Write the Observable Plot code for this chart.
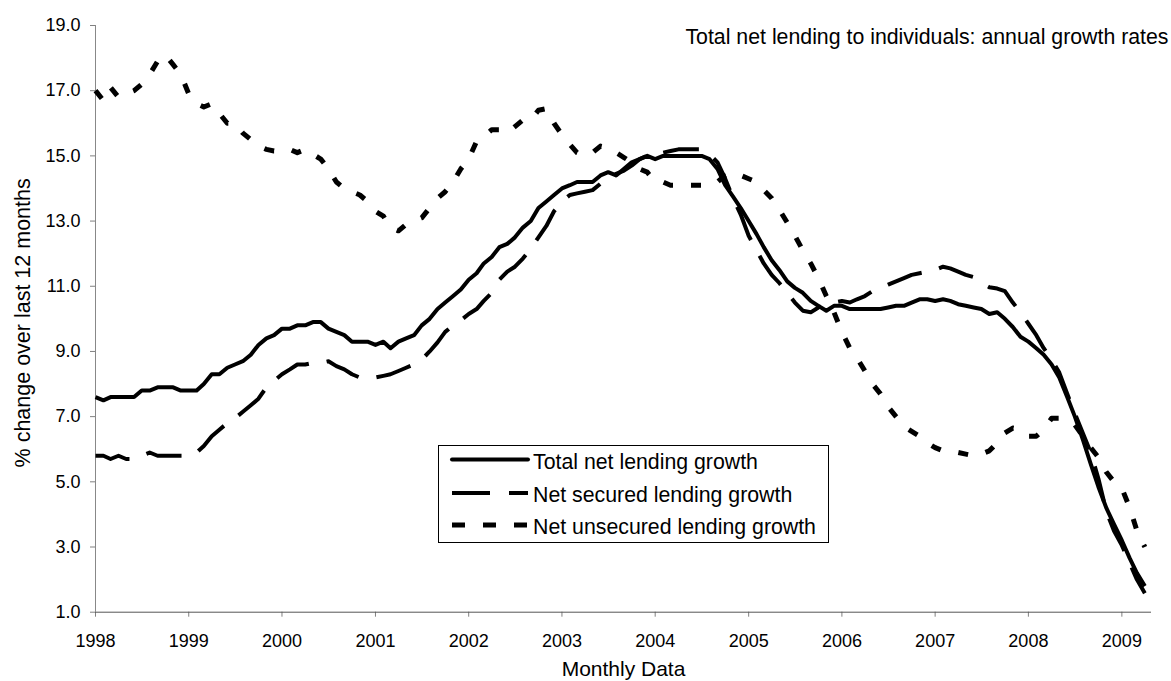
<!DOCTYPE html>
<html>
<head>
<meta charset="utf-8">
<script src="https://cdn.jsdelivr.net/npm/d3@7"></script>
<script src="https://cdn.jsdelivr.net/npm/@observablehq/plot@0.6"></script>
<style>
  html, body { margin: 0; padding: 0; background: #fff; }
  #wrap { position: relative; width: 1171px; height: 681px; font-family: "Liberation Sans", Arial, sans-serif; }
  #legend { position: absolute; left: 438px; top: 445px; }
</style>
</head>
<body>
<div id="wrap"></div>
<script>
// ---- Chart text ----
const titleText = "Total net lending to individuals: annual growth rates";
const yLabel = "% change over last 12 months";
const xLabel = "Monthly Data";
const seriesNames = ["Total net lending growth", "Net secured lending growth", "Net unsecured lending growth"];

// ---- Tick values ----
const yTicks = [1, 3, 5, 7, 9, 11, 13, 15, 17, 19];
const yearTicks = [1998, 1999, 2000, 2001, 2002, 2003, 2004, 2005, 2006, 2007, 2008, 2009];

// ---- Monthly series, Jan 1998 .. Apr 2009 ----
const total = [
  7.6, 7.5, 7.6, 7.6, 7.6, 7.6, 7.8, 7.8, 7.9, 7.9, 7.9, 7.8,          // 1998
  7.8, 7.8, 8.0, 8.3, 8.3, 8.5, 8.6, 8.7, 8.9, 9.2, 9.4, 9.5,          // 1999
  9.7, 9.7, 9.8, 9.8, 9.9, 9.9, 9.7, 9.6, 9.5, 9.3, 9.3, 9.3,          // 2000
  9.2, 9.3, 9.1, 9.3, 9.4, 9.5, 9.8, 10.0, 10.3, 10.5, 10.7, 10.9,     // 2001
  11.2, 11.4, 11.7, 11.9, 12.2, 12.3, 12.5, 12.8, 13.0, 13.4, 13.6, 13.8, // 2002
  14.0, 14.1, 14.2, 14.2, 14.2, 14.4, 14.5, 14.4, 14.6, 14.8, 14.9, 15.0, // 2003
  14.9, 15.0, 15.0, 15.0, 15.0, 15.0, 15.0, 14.9, 14.6, 14.1, 13.75, 13.4, // 2004
  13.0, 12.6, 12.2, 11.8, 11.5, 11.15, 10.95, 10.8, 10.55, 10.4, 10.25, 10.4, // 2005
  10.4, 10.3, 10.3, 10.3, 10.3, 10.3, 10.35, 10.4, 10.4, 10.5, 10.6, 10.6, // 2006
  10.55, 10.6, 10.55, 10.45, 10.4, 10.35, 10.3, 10.15, 10.2, 10.0, 9.75, 9.45, // 2007
  9.3, 9.1, 8.9, 8.6, 8.2, 7.6, 7.0, 6.3, 5.55, 4.85, 4.2, 3.7,        // 2008
  3.2, 2.65, 2.2, 1.8                                                   // 2009
];
const secured = [
  5.8, 5.8, 5.7, 5.8, 5.7, 5.7, 5.8, 5.9, 5.8, 5.8, 5.8, 5.8,          // 1998
  5.8, 5.9, 6.1, 6.4, 6.6, 6.8, 6.95, 7.15, 7.35, 7.55, 7.9, 8.1,      // 1999
  8.3, 8.45, 8.6, 8.6, 8.65, 8.65, 8.7, 8.55, 8.45, 8.3, 8.2, 8.2,     // 2000
  8.2, 8.25, 8.3, 8.4, 8.5, 8.6, 8.75, 9.0, 9.28, 9.6, 9.8, 9.95,      // 2001
  10.15, 10.3, 10.55, 10.8, 11.2, 11.45, 11.6, 11.85, 12.15, 12.5, 12.85, 13.3, // 2002
  13.6, 13.8, 13.85, 13.9, 13.95, 14.15, 14.35, 14.45, 14.55, 14.7, 14.9, 15.0, // 2003
  15.0, 15.1, 15.15, 15.2, 15.2, 15.2, 15.2, 15.05, 14.8, 14.3, 13.7, 13.2, // 2004
  12.55, 12.1, 11.7, 11.35, 11.1, 10.8, 10.5, 10.25, 10.2, 10.35, 10.45, 10.5, // 2005
  10.55, 10.5, 10.6, 10.7, 10.85, 10.95, 11.05, 11.15, 11.25, 11.35, 11.4, 11.45, // 2006
  11.5, 11.6, 11.55, 11.45, 11.35, 11.28, 11.1, 10.97, 10.93, 10.85, 10.5, 10.2, // 2007
  9.85, 9.5, 9.1, 8.75, 8.35, 7.7, 7.1, 6.5, 5.9, 5.1, 4.1, 3.5,      // 2008
  3.05, 2.5, 2.0, 1.58                                                  // 2009
];
const unsecured = [
  17.0, 16.7, 17.1, 16.8, 16.9, 17.0, 17.2, 17.5, 17.9, 18.1, 17.8, 17.5, // 1998
  16.9, 16.6, 16.5, 16.6, 16.3, 16.0, 16.0, 15.7, 15.5, 15.3, 15.2, 15.15, // 1999
  15.15, 15.2, 15.1, 15.2, 15.05, 14.9, 14.6, 14.2, 14.0, 13.9, 13.8, 13.6, // 2000
  13.3, 13.15, 12.8, 12.7, 12.9, 13.0, 13.1, 13.4, 13.7, 13.9, 14.2, 14.6, // 2001
  14.9, 15.45, 15.6, 15.8, 15.8, 15.7, 15.9, 16.1, 16.1, 16.4, 16.45, 16.0, // 2002
  15.65, 15.35, 15.1, 15.0, 15.1, 15.3, 15.25, 15.1, 14.95, 14.8, 14.6, 14.5, // 2003
  14.2, 14.2, 14.1, 14.1, 14.1, 14.1, 14.1, 14.1, 14.2, 14.4, 14.5, 14.4, // 2004
  14.3, 14.2, 13.95, 13.7, 13.35, 12.95, 12.55, 12.1, 11.7, 11.25, 10.7, 10.2, // 2005
  9.6, 9.1, 8.8, 8.4, 8.0, 7.7, 7.3, 7.0, 6.7, 6.55, 6.4, 6.2,          // 2006
  6.05, 5.95, 5.9, 5.9, 5.85, 5.8, 5.85, 5.95, 6.2, 6.5, 6.65, 6.6,     // 2007
  6.4, 6.4, 6.6, 6.95, 6.95, 6.8, 6.75, 6.4, 6.05, 5.75, 5.3, 5.0,     // 2008
  4.8, 4.2, 3.5, 3.0                                                    // 2009
];

const seriesValues = [total, secured, unsecured];
const seriesDash = [null, "36,18", "10,18"];
const seriesWidth = [4, 4, 5];
const legendDash = [null, "38,19", "13,18"];

const months = d3.utcMonth.range(new Date(Date.UTC(1998, 0, 1)), new Date(Date.UTC(2009, 4, 1)));
const xStart = new Date(Date.UTC(1998, 0, 1));
const xEnd = new Date(Date.UTC(2009, 3, 27));

const rows = [];
seriesNames.forEach((name, si) => {
  seriesValues[si].forEach((v, i) => rows.push({date: months[i], value: v, series: name}));
});

const font = '"Liberation Sans", Arial, sans-serif';

const lineMarks = seriesNames.map((name, si) => Plot.lineY(rows.filter(d => d.series === name), {
  x: "date", y: "value",
  stroke: "#000",
  strokeWidth: seriesWidth[si],
  strokeDasharray: seriesDash[si] ?? undefined,
  strokeLinecap: "butt",
  strokeLinejoin: "round"
})).reverse();

const chart = Plot.plot({
  width: 1171,
  height: 681,
  marginTop: 25,
  marginBottom: 69.3,
  marginLeft: 95,
  marginRight: 20,
  style: {fontFamily: font, fontSize: "18px", color: "#000", background: "#fff"},
  x: {type: "utc", domain: [xStart, xEnd]},
  y: {domain: [1, 19]},
  marks: [
    Plot.axisY({ticks: yTicks, tickFormat: d => d.toFixed(1), tickSize: 5, tickPadding: 10, stroke: "#808080", fill: "#000", fontSize: 18, label: null}),
    Plot.axisX({ticks: yearTicks.map(y => new Date(Date.UTC(y, 0, 1))), tickFormat: d3.utcFormat("%Y"), tickSize: 5, tickPadding: 17, stroke: "#808080", fill: "#000", fontSize: 18, label: null}),
    Plot.ruleX([xStart], {stroke: "#888"}),
    Plot.ruleY([1], {stroke: "#555"}),
    ...lineMarks,
    Plot.text([titleText], {frameAnchor: "top-right", textAnchor: "end", lineAnchor: "bottom", dx: 17, dy: 18, fontSize: 21.3, fill: "#000"}),
    Plot.text([yLabel], {frameAnchor: "left", rotate: -90, textAnchor: "middle", lineAnchor: "middle", dx: -72, dy: 4, fontSize: 21.5, fill: "#000"}),
    Plot.text([xLabel], {frameAnchor: "bottom", lineAnchor: "bottom", dy: 64, fontSize: 21, fill: "#000"})
  ]
});

const wrap = document.getElementById("wrap");
wrap.appendChild(chart);

// ---- Legend (HTML overlay) ----
const legW = 391, legH = 98;
const legRowY = [14.5, 48, 80];
const legend = d3.select(wrap).append("svg")
  .attr("id", "legend")
  .attr("width", legW).attr("height", legH)
  .style("font-family", font);
legend.append("rect")
  .attr("x", 0.5).attr("y", 0.5).attr("width", legW - 1).attr("height", legH - 1)
  .attr("fill", "#fff").attr("stroke", "#000").attr("stroke-width", 1);
seriesNames.forEach((name, i) => {
  const g = legend.append("g").attr("transform", `translate(0,${legRowY[i]})`);
  g.append("line")
    .attr("x1", 14).attr("x2", 90).attr("y1", 0).attr("y2", 0)
    .attr("stroke", "#000").attr("stroke-width", seriesWidth[i])
    .attr("stroke-linecap", i === 0 ? "round" : "butt")
    .attr("stroke-dasharray", legendDash[i]);
  g.append("text")
    .attr("x", 95).attr("y", 9)
    .attr("font-size", 21.3).attr("fill", "#000")
    .text(name);
});
</script>
</body>
</html>
